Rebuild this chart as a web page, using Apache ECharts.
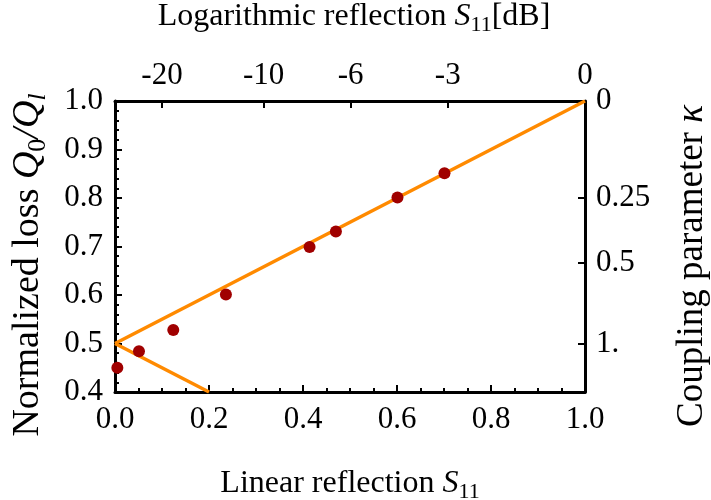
<!DOCTYPE html>
<html>
<head>
<meta charset="utf-8">
<script src="https://cdn.jsdelivr.net/npm/echarts@6/dist/echarts.min.js"></script>
<style>
  html, body { margin: 0; padding: 0; background: #fff; }
  #chart { width: 711px; height: 500px; }
</style>
</head>
<body>
<div id="chart"></div>
<script>
// Measured resonator points: linear reflection vs. normalized loss
const linearS11 = [0.005, 0.051, 0.124, 0.236, 0.414, 0.470, 0.601, 0.701];
const normLoss  = [0.450, 0.484, 0.528, 0.601, 0.699, 0.731, 0.801, 0.851];

// Model lines (undercoupled / overcoupled branches)
const upperX = [0, 1];
const upperY = [0.5, 1.0];
const lowerX = [0, 0.2];
const lowerY = [0.5, 0.4];

// Secondary axes tick labels
const dbTicks = [-20, -10, -6, -3, 0];
const dbLabels = ['-20', '-10', '-6', '-3', '0'];
const kappaTicks = [0, 0.25, 0.5, 1];
const kappaLabels = ['0', '0.25', '0.5', '1.'];

// Tick positions on the linear scales
const dbPos = dbTicks.map(d => Math.pow(10, d / 20));
const kappaPos = kappaTicks.map(k => 1 / (1 + k));

function nearestLabel(v, pos, labels) {
  let best = 0;
  for (let i = 1; i < pos.length; i++) {
    if (Math.abs(pos[i] - v) < Math.abs(pos[best] - v)) best = i;
  }
  return labels[best];
}

const FONT = 'Liberation Serif';
const axisLine = { show: true, onZero: false, lineStyle: { color: '#000', width: 3 } };
const labelStyle = { color: '#000', fontFamily: FONT, fontSize: 31 };

const chart = echarts.init(document.getElementById('chart'), null, { renderer: 'canvas' });

function makeRich(size) {
  const sub = Math.round(size * 0.68);
  return {
    n: { fontFamily: FONT, fontSize: size, color: '#000', lineHeight: size * 1.2, verticalAlign: 'middle' },
    i: { fontFamily: FONT, fontSize: size, fontStyle: 'italic', color: '#000', lineHeight: size * 1.2, verticalAlign: 'middle' },
    sub: { fontFamily: FONT, fontSize: sub, color: '#000', lineHeight: size * 0.5, verticalAlign: 'bottom' },
    subi: { fontFamily: FONT, fontSize: sub, fontStyle: 'italic', color: '#000', lineHeight: size * 0.5, verticalAlign: 'bottom' }
  };
}

function titleText(text, x, y, size, rotation) {
  return {
    type: 'text',
    x: x, y: y,
    rotation: rotation || 0,
    silent: true,
    style: {
      text: text,
      rich: makeRich(size),
      fontFamily: FONT,
      fontSize: size,
      fill: '#000',
      align: 'center',
      verticalAlign: 'middle'
    }
  };
}

chart.setOption({
  animation: false,
  backgroundColor: '#fff',
  grid: { left: 115, right: 126, top: 101, bottom: 108, containLabel: false },
  xAxis: [
    {
      type: 'value', position: 'bottom', min: 0, max: 1, interval: 0.2,
      axisLine: axisLine,
      axisTick: { show: true, inside: true, length: 7, lineStyle: { color: '#000', width: 2 } },
      minorTick: { show: true, splitNumber: 4, length: 4, lineStyle: { color: '#000', width: 2 } },
      splitLine: { show: false },
      axisLabel: Object.assign({ margin: 12, formatter: v => v.toFixed(1) }, labelStyle)
    },
    {
      type: 'value', position: 'top', min: 0, max: 1,
      axisLine: axisLine,
      axisTick: { show: true, inside: true, length: 7, customValues: dbPos, lineStyle: { color: '#000', width: 2 } },
      splitLine: { show: false },
      axisLabel: Object.assign({
        margin: 10,
        customValues: dbPos,
        formatter: v => nearestLabel(v, dbPos, dbLabels)
      }, labelStyle)
    }
  ],
  yAxis: [
    {
      type: 'value', position: 'left', min: 0.4, max: 1.0, interval: 0.1,
      axisLine: axisLine,
      axisTick: { show: true, inside: true, length: 7, lineStyle: { color: '#000', width: 2 } },
      minorTick: { show: true, splitNumber: 5, length: 4, lineStyle: { color: '#000', width: 2 } },
      splitLine: { show: false },
      axisLabel: Object.assign({ margin: 12, formatter: v => v.toFixed(1) }, labelStyle)
    },
    {
      type: 'value', position: 'right', min: 0.4, max: 1.0,
      axisLine: axisLine,
      axisTick: { show: true, inside: true, length: 7, customValues: kappaPos, lineStyle: { color: '#000', width: 2 } },
      splitLine: { show: false },
      axisLabel: Object.assign({
        margin: 11,
        customValues: kappaPos,
        formatter: v => nearestLabel(v, kappaPos, kappaLabels)
      }, labelStyle)
    }
  ],
  series: [
    {
      type: 'line', xAxisIndex: 0, yAxisIndex: 0,
      data: upperX.map((x, i) => [x, upperY[i]]),
      symbol: 'none', lineStyle: { color: '#ff8a00', width: 3.5 }, z: 2
    },
    {
      type: 'line', xAxisIndex: 0, yAxisIndex: 0,
      data: lowerX.map((x, i) => [x, lowerY[i]]),
      symbol: 'none', lineStyle: { color: '#ff8a00', width: 3.5 }, z: 2
    },
    {
      type: 'scatter', xAxisIndex: 0, yAxisIndex: 0,
      data: linearS11.map((x, i) => [x, normLoss[i]]),
      symbol: 'circle', symbolSize: 12,
      itemStyle: { color: '#a00000', opacity: 1 }, z: 3
    }
  ],
  graphic: [
    titleText('{n|Logarithmic reflection }{i|S}{sub|11}{n|[dB]}', 354, 17, 32),
    titleText('{n|Linear reflection }{i|S}{sub|11}', 350, 484, 32),
    titleText('{n|Normalized loss }{i|Q}{sub|0}{i|/Q}{subi|l}', 28, 265, 38, Math.PI / 2),
    titleText('{n|Coupling parameter }{i|κ}', 692, 266, 37, Math.PI / 2)
  ]
});
</script>
</body>
</html>
